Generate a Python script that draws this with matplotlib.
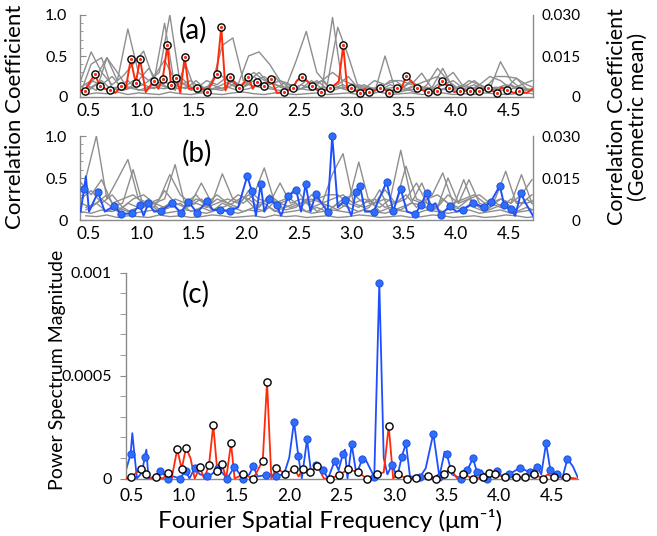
import numpy as np
import matplotlib
matplotlib.use("Agg")
import matplotlib.pyplot as plt
from matplotlib.ticker import MultipleLocator

W, H = 657, 536
FONT = ["Lato", "DejaVu Sans"]
plt.rcParams["font.family"] = FONT

# ---------------- sampling grids for the gray (individual) traces ----------------
grid_A = np.round(np.arange(0.42, 4.73, 0.1), 2)   # 44 samples
grid_B = np.round(np.arange(0.47, 4.78, 0.1), 2)   # 44 samples

# ---------------- panel (a): individual traces (x0.01) ----------------
gray_a1 = [20,55,30,15,25,40,56,20,90,10,12,8,10,30,20,15,50,55,40,20,15,10,20,10,97,10,8,10,5,50,8,10,5,15,35,20,10,8,15,10,43,20,10,8]
gray_a2 = [10,25,48,20,83,30,20,30,100,15,20,10,15,63,72,20,30,20,25,10,43,80,30,15,85,50,10,8,10,20,20,15,29,10,20,30,12,20,10,25,25,23,15,10]
gray_a3 = [5,40,48,10,8,12,15,10,20,8,40,5,8,12,18,10,15,12,10,8,12,10,8,12,10,15,8,5,8,10,5,8,10,12,8,10,8,10,12,8,10,15,8,10]
gray_a4 = [15,8,48,30,10,20,35,15,10,20,8,12,10,8,15,12,20,25,15,12,10,20,8,10,12,8,15,10,12,8,10,20,8,12,35,10,15,10,8,12,10,23,10,5]
gray_a5 = [8,12,20,8,15,10,8,12,10,15,10,20,8,10,12,8,10,15,20,12,8,15,10,20,8,12,10,15,8,10,12,8,15,10,8,12,10,8,10,12,8,10,12,8]
gray_a6 = [3,5,4,6,3,5,4,3,6,4,3,5,4,3,5,6,4,3,5,4,3,4,5,3,4,5,3,4,6,3,4,5,3,4,5,3,4,3,5,4,3,4,5,3]
gray_a7 = [12,20,15,25,10,20,15,25,45,20,15,10,20,15,25,10,20,30,15,20,10,25,15,20,30,20,15,10,20,15,20,10,15,20,25,15,10,20,15,25,20,10,15,20]
gray_a8 = [6,15,10,12,20,8,12,18,10,25,12,8,15,10,20,12,25,15,10,18,8,12,20,10,15,25,10,12,8,15,10,18,12,8,15,20,10,15,8,10,15,12,8,10]

# red geometric-mean line (a) and its circled samples
red_a_x = [0.42,0.459,0.554,0.602,0.65,0.703,0.75,0.808,0.85,0.897,0.945,0.986,1.04,1.116,1.16,1.202,1.246,1.281,1.329,1.37,1.411,1.45,1.529,1.58,1.627,1.716,1.760,1.80,1.846,1.931,2.017,2.06,2.100,2.164,2.233,2.29,2.360,2.443,2.48,2.531,2.627,2.707,2.798,2.88,2.922,2.96,2.998,3.084,3.13,3.170,3.269,3.31,3.360,3.436,3.47,3.522,3.627,3.726,3.811,3.865,3.931,3.98,4.030,4.126,4.214,4.300,4.386,4.43,4.484,4.55,4.598,4.67,4.73]
red_a_y = [0.08,0.077,0.28,0.14,0.10,0.08,0.05,0.13,0.10,0.46,0.17,0.46,0.06,0.195,0.10,0.22,0.63,0.15,0.235,0.05,0.49,0.10,0.11,0.10,0.065,0.28,0.85,0.08,0.24,0.11,0.24,0.10,0.18,0.13,0.215,0.05,0.065,0.11,0.20,0.25,0.14,0.06,0.105,0.19,0.63,0.10,0.11,0.045,0.10,0.06,0.105,0.10,0.045,0.11,0.08,0.26,0.11,0.057,0.073,0.20,0.11,0.06,0.077,0.077,0.077,0.11,0.045,0.12,0.08,0.05,0.07,0.05,0.10]
red_a_mx = [0.459,0.554,0.602,0.703,0.808,0.897,0.945,0.986,1.116,1.202,1.246,1.281,1.329,1.411,1.529,1.627,1.716,1.760,1.846,1.931,2.017,2.100,2.164,2.233,2.360,2.443,2.531,2.627,2.707,2.798,2.922,2.998,3.084,3.170,3.269,3.360,3.436,3.522,3.627,3.726,3.811,3.865,3.931,4.030,4.126,4.214,4.300,4.386,4.484,4.598]
red_a_my = [0.077,0.28,0.14,0.08,0.13,0.46,0.17,0.46,0.195,0.22,0.63,0.15,0.235,0.49,0.11,0.065,0.28,0.85,0.24,0.11,0.24,0.18,0.13,0.215,0.065,0.11,0.25,0.14,0.06,0.105,0.63,0.11,0.045,0.06,0.105,0.045,0.11,0.26,0.11,0.057,0.073,0.20,0.11,0.077,0.077,0.077,0.11,0.045,0.08,0.07]

# ---------------- panel (b): individual traces (x0.01) ----------------
gray_b1 = [45,30,48,20,25,30,20,15,35,20,15,25,20,30,20,15,35,25,20,44,20,25,15,20,25,30,20,25,20,36,20,25,44,20,15,30,20,48,20,15,25,20,30,48]
gray_b2 = [50,100,25,48,72,25,20,25,54,30,20,44,20,55,25,20,30,62,20,25,38,20,25,30,30,20,69,20,15,25,83,25,20,30,56,20,25,30,20,25,58,20,20,25]
gray_b3 = [20,15,25,15,20,60,15,20,25,66,15,20,15,20,25,20,30,20,25,20,15,20,25,20,55,79,20,15,20,25,20,64,25,20,15,50,20,25,15,20,25,20,54,20]
gray_b4 = [15,20,10,15,10,15,20,10,15,20,10,15,10,20,15,10,15,20,10,15,20,10,15,10,20,15,10,15,36,10,15,20,44,15,10,15,48,15,10,20,15,10,15,10]
gray_b5 = [10,8,12,10,15,8,10,12,8,10,12,10,8,12,10,8,12,10,15,8,10,12,8,10,12,10,8,12,10,8,12,10,8,12,10,8,10,12,8,10,12,8,10,12]
gray_b6 = [5,4,6,3,5,4,3,6,4,5,3,4,6,5,3,4,5,3,6,4,5,3,4,5,3,4,6,5,3,4,5,3,4,6,5,3,4,5,3,4,6,5,3,4]
gray_b7 = [25,35,20,30,15,25,30,20,15,25,20,30,15,25,20,30,25,15,30,20,25,15,30,20,15,25,30,20,25,15,20,30,15,25,30,20,15,25,30,20,15,25,20,30]
gray_b8 = [12,20,30,10,20,15,25,12,20,10,18,25,12,15,20,28,15,10,22,12,15,25,10,18,12,20,15,25,10,15,12,20,18,10,25,15,12,20,10,15,20,12,25,15]

# blue geometric-mean line (b) and its sample dots
blue_b_x = [0.42,0.452,0.47,0.50,0.586,0.65,0.738,0.808,0.912,0.983,1.02,1.065,1.12,1.183,1.293,1.373,1.446,1.529,1.624,1.68,1.75,1.84,1.92,2.008,2.05,2.09,2.135,2.17,2.217,2.287,2.33,2.398,2.474,2.52,2.564,2.61,2.659,2.773,2.817,2.87,2.938,3.0,3.04,3.081,3.13,3.211,3.335,3.398,3.468,3.53,3.605,3.662,3.716,3.75,3.80,3.85,3.938,4.0,4.059,4.16,4.259,4.329,4.414,4.455,4.519,4.56,4.614,4.66,4.73]
blue_b_y = [0.10,0.365,0.52,0.10,0.333,0.10,0.167,0.071,0.08,0.175,0.05,0.20,0.10,0.107,0.20,0.087,0.218,0.087,0.226,0.12,0.119,0.111,0.15,0.524,0.345,0.05,0.429,0.10,0.246,0.179,0.05,0.286,0.357,0.10,0.429,0.10,0.306,0.099,1.0,0.15,0.238,0.05,0.33,0.409,0.10,0.099,0.452,0.103,0.373,0.10,0.067,0.179,0.321,0.155,0.20,0.06,0.167,0.10,0.123,0.206,0.151,0.218,0.409,0.179,0.127,0.05,0.318,0.20,0.05]
blue_b_mx = [0.452,0.586,0.738,0.808,0.912,0.983,1.065,1.183,1.293,1.373,1.446,1.529,1.624,1.75,1.84,2.008,2.05,2.135,2.217,2.287,2.398,2.474,2.564,2.659,2.773,2.817,2.938,3.04,3.081,3.211,3.335,3.398,3.468,3.605,3.662,3.716,3.75,3.85,3.938,4.059,4.16,4.259,4.329,4.414,4.455,4.519,4.614]
blue_b_my = [0.365,0.333,0.167,0.071,0.08,0.175,0.20,0.107,0.20,0.087,0.218,0.087,0.226,0.119,0.111,0.524,0.345,0.429,0.246,0.179,0.286,0.357,0.429,0.306,0.099,1.0,0.238,0.33,0.409,0.099,0.452,0.103,0.373,0.067,0.179,0.321,0.155,0.06,0.167,0.123,0.206,0.151,0.218,0.409,0.179,0.127,0.318]

# ---------------- panel (c): power spectra (x1e-6) ----------------
blue_c_x = [0.44,0.49,0.506,0.55,0.60,0.624,0.64,0.66,0.72,0.77,0.849,0.90,0.957,1.017,1.05,1.10,1.15,1.214,1.26,1.325,1.41,1.477,1.563,1.62,1.658,1.70,1.782,1.871,1.95,2.0,2.046,2.087,2.12,2.17,2.21,2.252,2.322,2.37,2.433,2.47,2.51,2.53,2.555,2.595,2.64,2.696,2.73,2.81,2.858,2.90,2.935,2.976,3.03,3.071,3.112,3.15,3.246,3.30,3.372,3.43,3.48,3.50,3.55,3.636,3.696,3.75,3.789,3.83,3.887,3.93,3.976,4.03,4.093,4.198,4.293,4.363,4.40,4.446,4.487,4.553,4.60,4.649,4.70,4.753]
blue_c_y = [30,119,220,0,30,106,140,0,10,36,0,10,0,38,0,50,20,12,20,50,0,56,0,20,59,10,17,14,20,100,276,108,0,190,20,66,40,0,85,40,117,140,0,166,20,95,90,7,950,100,20,64,10,104,171,10,7,50,218,9,130,120,20,0,41,98,30,40,0,30,36,10,20,52,30,57,20,171,40,20,0,95,60,0]
blue_c_mx = [0.49,0.624,0.77,0.849,0.957,1.017,1.10,1.214,1.325,1.41,1.477,1.563,1.658,1.782,1.871,2.046,2.087,2.17,2.252,2.322,2.433,2.51,2.595,2.696,2.81,2.858,2.976,3.071,3.112,3.246,3.372,3.43,3.50,3.636,3.696,3.75,3.789,3.887,3.976,4.093,4.198,4.293,4.363,4.446,4.487,4.553,4.649]
blue_c_my = [119,106,36,0,0,38,50,12,50,0,56,0,59,17,14,276,108,190,66,40,85,117,166,95,7,950,64,104,171,7,218,9,120,0,41,98,30,0,36,20,52,30,57,171,40,20,95]

red_c_x = [0.44,0.49,0.591,0.633,0.68,0.734,0.80,0.843,0.88,0.934,0.976,1.017,1.06,1.10,1.15,1.19,1.236,1.277,1.315,1.36,1.40,1.446,1.48,1.563,1.658,1.748,1.789,1.83,1.877,1.963,2.049,2.09,2.131,2.195,2.268,2.33,2.391,2.474,2.563,2.658,2.738,2.833,2.90,2.948,2.99,3.033,3.119,3.205,3.27,3.325,3.398,3.474,3.538,3.60,3.658,3.753,3.843,3.90,3.963,4.058,4.157,4.249,4.334,4.417,4.46,4.522,4.636,4.73]
red_c_y = [0,7,45,20,0,9,0,28,0,142,46,147,100,0,54,0,64,260,36,70,0,171,0,20,0,86,468,0,50,23,46,10,48,30,62,0,0,17,45,30,0,20,30,255,0,20,0,2,10,12,0,23,46,0,20,0,6,28,20,6,6,6,20,0,20,6,6,0]
red_c_mx = [0.49,0.591,0.633,0.734,0.843,0.934,0.976,1.017,1.15,1.236,1.277,1.315,1.36,1.446,1.563,1.658,1.748,1.789,1.877,1.963,2.049,2.131,2.195,2.268,2.391,2.474,2.563,2.658,2.738,2.833,2.948,3.033,3.119,3.205,3.325,3.398,3.474,3.538,3.658,3.753,3.843,3.90,3.963,4.058,4.157,4.249,4.334,4.417,4.522,4.636]
red_c_my = [7,45,20,9,28,142,46,147,54,64,260,36,70,171,20,0,86,468,50,23,46,48,30,62,0,17,45,30,0,20,255,20,0,2,12,0,23,46,20,0,6,28,20,6,6,6,20,0,6,6]

x_ticks = [0.5, 1.0, 1.5, 2.0, 2.5, 3.0, 3.5, 4.0, 4.5]
x_tick_labels = ["0.5", "1.0", "1.5", "2.0", "2.5", "3.0", "3.5", "4.0", "4.5"]
ab_ticks = [0, 0.5, 1.0]
ab_tick_labels = ["0", "0.5", "1.0"]
gm_ticks = [0, 0.015, 0.030]
gm_tick_labels = ["0", "0.015", "0.030"]
c_ticks = [0, 0.0005, 0.001]
c_tick_labels = ["0", "0.0005", "0.001"]

GRAY = "#8e8e8e"
SPINE = "#8a8a8a"
RED = "#ff2a0a"
BLUE = "#1e4fff"
BLUE_M = "#2f6dff"
MS = 5.2

fig = plt.figure(figsize=(W / 100, H / 100), dpi=100)


def box(x0, y0, x1, y1):
    return [x0 / W, 1 - y1 / H, (x1 - x0) / W, (y1 - y0) / H]


def style_ab(ax):
    ax.set_xlim(0.414, 4.73)
    ax.set_ylim(0, 1.0)
    for s in ["left", "right", "bottom"]:
        ax.spines[s].set_color(SPINE)
        ax.spines[s].set_linewidth(1.0)
    ax.spines["top"].set_visible(False)
    ax.set_xticks(x_ticks)
    ax.set_xticklabels(x_tick_labels, fontsize=12.5)
    ax.tick_params(axis="x", length=0, pad=4.5)
    ax.set_yticks(ab_ticks)
    ax.set_yticklabels(ab_tick_labels, fontsize=11.5)
    ax.yaxis.set_minor_locator(MultipleLocator(0.1))
    ax.tick_params(axis="y", which="major", direction="in", length=4, color=SPINE, pad=9)
    ax.tick_params(axis="y", which="minor", direction="in", length=2.5, color=SPINE)
    ax2 = ax.twinx()
    ax2.set_ylim(0, 0.03)
    ax2.set_yticks(gm_ticks)
    ax2.set_yticklabels(gm_tick_labels, fontsize=11)
    ax2.tick_params(axis="y", direction="in", length=0, pad=34)
    for t in ax2.get_yticklabels():
        t.set_horizontalalignment("right")
    for s in ["left", "right", "bottom", "top"]:
        ax2.spines[s].set_visible(False)
    return ax2


def plot_grays(ax, series_A, series_B):
    for s in series_A:
        ax.plot(grid_A, np.array(s) / 100.0, color=GRAY, lw=1.0, zorder=1)
    for s in series_B:
        ax.plot(grid_B, np.array(s) / 100.0, color=GRAY, lw=1.0, zorder=1)


# ---- panel (a)
ax_a = fig.add_axes(box(80, 15, 533, 97))
style_ab(ax_a)
plot_grays(ax_a, [gray_a1, gray_a3, gray_a5, gray_a7], [gray_a2, gray_a4, gray_a6, gray_a8])
ax_a.plot(red_a_x, red_a_y, color=RED, lw=1.4, zorder=3)
ax_a.plot(red_a_mx, red_a_my, ls="none", marker="o", ms=MS, mfc="white", mec="black", mew=1.0, zorder=4, clip_on=False)
ax_a.plot(red_a_mx, red_a_my, ls="none", marker="o", ms=2.3, mfc=RED, mec=RED, mew=0, zorder=5, clip_on=False)
ax_a.text(193 / W, 1 - 30 / H, "(a)", transform=fig.transFigure, fontsize=20, ha="center", va="center")

# ---- panel (b)
ax_b = fig.add_axes(box(80, 136, 533, 220))
style_ab(ax_b)
plot_grays(ax_b, [gray_b1, gray_b3, gray_b5, gray_b7], [gray_b2, gray_b4, gray_b6, gray_b8])
ax_b.plot(blue_b_x, blue_b_y, color=BLUE, lw=1.4, zorder=3)
ax_b.plot(blue_b_mx, blue_b_my, ls="none", marker="o", ms=MS, mfc=BLUE_M, mec="#1d4fe0", mew=0.7, zorder=4, clip_on=False)
ax_b.text(197 / W, 1 - 153 / H, "(b)", transform=fig.transFigure, fontsize=20, ha="center", va="center")

# ---- panel (c)
ax_c = fig.add_axes(box(126, 272.5, 578, 478.5))
ax_c.set_xlim(0.446, 4.75)
ax_c.set_ylim(0, 0.001)
for s in ["top", "right"]:
    ax_c.spines[s].set_visible(False)
for s in ["left", "bottom"]:
    ax_c.spines[s].set_color(SPINE)
    ax_c.spines[s].set_linewidth(1.0)
ax_c.set_xticks(x_ticks)
ax_c.set_xticklabels(x_tick_labels, fontsize=12.5)
ax_c.tick_params(axis="x", length=0, pad=7)
ax_c.set_yticks(c_ticks)
ax_c.set_yticklabels(c_tick_labels, fontsize=11.5)
ax_c.yaxis.set_minor_locator(MultipleLocator(0.0001))
ax_c.tick_params(axis="y", which="major", direction="out", length=4, color=SPINE, pad=6)
ax_c.tick_params(axis="y", which="minor", direction="out", length=4, color=SPINE)
ax_c.plot(blue_c_x, np.array(blue_c_y) * 1e-6, color=BLUE, lw=1.3, zorder=2)
ax_c.plot(red_c_x, np.array(red_c_y) * 1e-6, color=RED, lw=1.3, zorder=3)
ax_c.plot(blue_c_mx, np.array(blue_c_my) * 1e-6, ls="none", marker="o", ms=MS, mfc=BLUE_M, mec="#1d4fe0", mew=0.7, zorder=4, clip_on=False)
ax_c.plot(red_c_mx, np.array(red_c_my) * 1e-6, ls="none", marker="o", ms=MS, mfc="white", mec="black", mew=1.0, zorder=5, clip_on=False)
ax_c.text(196 / W, 1 - 294 / H, "(c)", transform=fig.transFigure, fontsize=20, ha="center", va="center")

# ---- shared axis titles
fig.text(15 / W, 1 - 117 / H, "Correlation Coefficient", rotation=90, ha="center", va="center", fontsize=16)
fig.text(627 / W, 1 - 117 / H, "Correlation Coefficient\n(Geometric mean)", rotation=90, ha="center", va="center",
         fontsize=15.5, multialignment="center", linespacing=1.05)
fig.text(57 / W, 1 - 370 / H, "Power Spectrum Magnitude", rotation=90, ha="center", va="center", fontsize=14)
fig.text(330 / W, 1 - 520 / H, "Fourier Spatial Frequency (\u03bcm\u207b\u00b9)", ha="center", va="center", fontsize=17.5,
         family=FONT)

fig.savefig("out.png", dpi=100)
